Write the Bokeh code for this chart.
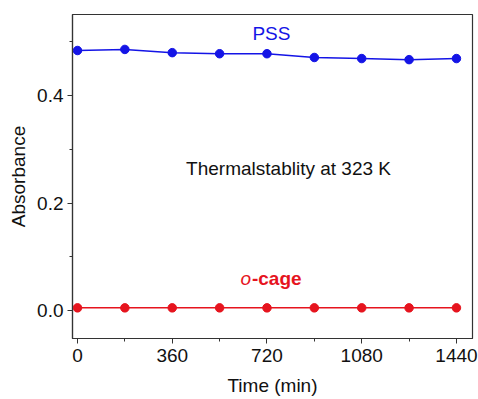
from bokeh.plotting import figure
from bokeh.models import Range1d, FixedTicker, Label, CustomJSTickFormatter
from bokeh.embed import file_html
from bokeh.resources import INLINE

time_min = [0, 180, 360, 540, 720, 900, 1080, 1260, 1440]
pss = [0.484, 0.486, 0.480, 0.478, 0.478, 0.471, 0.469, 0.467, 0.469]
ocage = [0.005, 0.005, 0.005, 0.005, 0.005, 0.005, 0.005, 0.005, 0.005]
x_ticks = [0, 360, 720, 1080, 1440]
x_minor = [180, 540, 900, 1260]
y_ticks = [0.0, 0.2, 0.4]
y_minor = [0.1, 0.3, 0.5]

FONT = "Liberation Sans"
BLUE = "#1414e6"
RED = "#e6141e"

p = figure(width=478, height=399, output_backend="svg", toolbar_location=None,
           x_range=Range1d(-19, 1501), y_range=Range1d(-0.052, 0.551),
           min_border_left=72, min_border_right=6, min_border_top=14, min_border_bottom=61)
p.background_fill_color = "white"
p.border_fill_color = "white"
p.grid.visible = False
p.outline_line_color = "#333333"
p.outline_line_width = 1.2

p.xaxis.ticker = FixedTicker(ticks=x_ticks, minor_ticks=x_minor)
p.yaxis.ticker = FixedTicker(ticks=y_ticks, minor_ticks=y_minor)
p.yaxis.formatter = CustomJSTickFormatter(code="return tick.toFixed(1);")

for ax in (p.xaxis, p.yaxis):
    ax.axis_line_color = "#333333"
    ax.axis_line_width = 1.2
    ax.major_tick_in = 0
    ax.major_tick_out = 5
    ax.minor_tick_in = 0
    ax.minor_tick_out = 3
    ax.major_tick_line_color = "#333333"
    ax.minor_tick_line_color = "#333333"
    ax.major_label_text_font = FONT
    ax.major_label_text_font_size = "19px"
    ax.major_label_text_color = "#111111"
    ax.axis_label_text_font = FONT
    ax.axis_label_text_font_size = "19px"
    ax.axis_label_text_font_style = "normal"
    ax.axis_label_text_color = "#111111"

p.xaxis.axis_label = "Time (min)"
p.yaxis.axis_label = "Absorbance"
p.xaxis.major_label_standoff = 5
p.yaxis.major_label_standoff = 4
p.xaxis.axis_label_standoff = 10
p.yaxis.axis_label_standoff = 5

p.line(time_min, pss, line_color=BLUE, line_width=1.5)
p.scatter(time_min, pss, size=8.5, fill_color=BLUE, line_color=BLUE)
p.line(time_min, ocage, line_color=RED, line_width=1.5)
p.scatter(time_min, ocage, size=8.5, fill_color=RED, line_color=RED)

p.add_layout(Label(x=737, y=0.515, text="PSS", text_font=FONT, text_font_size="19px",
                   text_color=BLUE, text_align="center", text_baseline="middle"))
p.add_layout(Label(x=802, y=0.264, text="Thermalstablity at 323 K", text_font=FONT,
                   text_font_size="19px", text_color="#111111", text_align="center",
                   text_baseline="middle"))
p.add_layout(Label(x=619, y=0.0595, text="o", text_font=FONT, text_font_size="19px",
                   text_font_style="italic", text_color=RED, text_align="left",
                   text_baseline="middle"))
p.add_layout(Label(x=663, y=0.0595, text="-cage", text_font=FONT, text_font_size="19px",
                   text_font_style="bold", text_color=RED, text_align="left",
                   text_baseline="middle"))

open("out.html", "w").write(file_html(p, INLINE))
